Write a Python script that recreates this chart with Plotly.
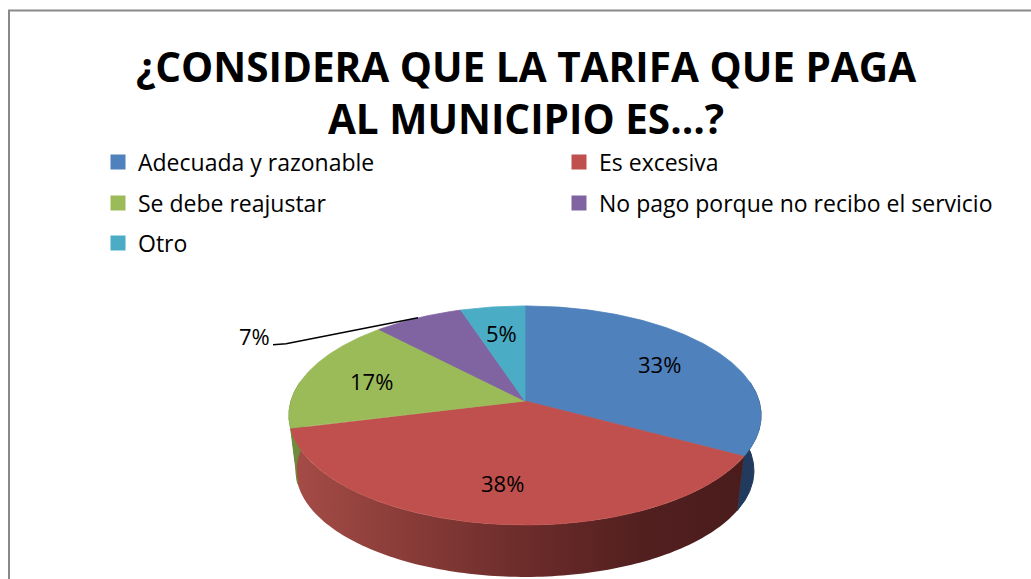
import numpy as np
import plotly.graph_objects as go

# ---------------- data ----------------
categories = ["Adecuada y razonable", "Es excesiva", "Se debe reajustar",
              "No pago porque no recibo el servicio", "Otro"]
values = [33, 38, 17, 7, 5]
title_lines = ["¿CONSIDERA QUE LA TARIFA QUE PAGA", "AL MUNICIPIO ES…?"]

# ---------------- styles ----------------
top_colors = ["#4F81BD", "#C0504D", "#9BBB59", "#8064A2", "#4BACC6"]
side_colors = ["#213A5E", "#7A3230", "#6F8B3B", "#53406E", "#2F7A8E"]
label_outside = [False, False, False, True, False]
FONT = "Open Sans"

W, H = 1031, 579
CX, CY = 525, 401          # pie apex (pixels)
SX, SY, U = 234, 107.6, 0.132   # perspective ellipse parameters
KB, DY = 0.97, 55.7        # bottom rim scale / drop
LABEL_R = 0.7

# legend grid (pixels): two columns, three rows
LEG_COL_X = [98, 559]
LEG_ROW_Y = [162, 203, 243]


def proj(theta, r=1.0):
    t = np.radians(theta)
    den = 1 + U * r * np.cos(t)
    return CX + SX * r * np.sin(t) / den, CY - SY * r * np.cos(t) / den


def proj_bottom(theta):
    x, y = proj(theta)
    return CX + KB * (x - CX), CY + KB * (y - CY) + DY


total = sum(values)
ends = np.cumsum(values) / total * 360.0
starts = np.concatenate([[0.0], ends[:-1]])

fig = go.Figure()

# ---- side walls (front visible part) ----
for i, (a0, a1) in enumerate(zip(starts, ends)):
    lo, hi = max(a0, 80.0), min(a1, 280.0)
    if hi <= lo:
        continue
    th = np.linspace(lo, hi, 120)
    xt, yt = proj(th)
    xb, yb = proj_bottom(th[::-1])
    xs = np.concatenate([xt, xb, xt[:1]])
    ys = np.concatenate([yt, yb, yt[:1]])
    kw = dict(x=xs, y=ys, fill="toself", hoverinfo="skip", showlegend=False)
    if i == 1:
        fig.add_trace(go.Scatter(mode="none", fillgradient=dict(
            type="horizontal",
            colorscale=[[0, "#A64C47"], [0.5, "#6D2D2B"], [0.78, "#521F1F"], [1, "#4A1C1C"]]),
            **kw))
    else:
        fig.add_trace(go.Scatter(mode="lines", fillcolor=side_colors[i],
                                 line=dict(color=side_colors[i], width=1), **kw))

# ---- top surfaces ----
for i, (a0, a1) in enumerate(zip(starts, ends)):
    th = np.linspace(a0, a1, 200)
    xr, yr = proj(th)
    xs = np.concatenate([[CX], xr, [CX]])
    ys = np.concatenate([[CY], yr, [CY]])
    fig.add_trace(go.Scatter(x=xs, y=ys, mode="lines", fill="toself",
                             fillcolor=top_colors[i],
                             line=dict(color=top_colors[i], width=0.8),
                             hoverinfo="skip", showlegend=False))

# ---- data labels ----
annotations = []
for i, (a0, a1) in enumerate(zip(starts, ends)):
    mid = (a0 + a1) / 2
    txt = f"{values[i] / total * 100:.0f}%"
    if label_outside[i]:
        ex, ey = proj(mid)
        elx, ely = ex - 132, ey + 26
        lx, ly = elx - 13, ely + 1
        fig.add_trace(go.Scatter(x=[ex, elx, lx], y=[ey, ely, ly], mode="lines",
                                 line=dict(color="#000000", width=1.5),
                                 hoverinfo="skip", showlegend=False))
        annotations.append(dict(x=lx - 1, y=ly - 9, xref="x", yref="y", text=txt,
                                showarrow=False, xanchor="right", yanchor="middle",
                                font=dict(family=FONT, size=22, color="#000")))
    else:
        px_, py_ = proj(mid, LABEL_R)
        annotations.append(dict(x=px_, y=py_, xref="x", yref="y", text=txt,
                                showarrow=False, xanchor="center", yanchor="middle",
                                font=dict(family=FONT, size=22, color="#000")))

# ---- legend entries (one legend box per entry, laid out as a 2-column grid) ----
legend_layout = {}
for i, cat in enumerate(categories):
    lid = "legend" if i == 0 else f"legend{i + 1}"
    fig.add_trace(go.Scatter(x=[None], y=[None], mode="markers", name=cat,
                             marker=dict(symbol="square", size=15, color=top_colors[i]),
                             legend=lid, hoverinfo="skip"))
    legend_layout[lid] = dict(
        orientation="h", font=dict(family=FONT, size=23, color="#000"),
        bgcolor="rgba(0,0,0,0)", itemsizing="trace",
        xanchor="left", yanchor="middle",
        x=LEG_COL_X[i % 2] / W, y=1 - LEG_ROW_Y[i // 2] / H,
        itemclick=False, itemdoubleclick=False)

fig.update_layout(
    width=W, height=H,
    margin=dict(l=0, r=0, t=0, b=0),
    paper_bgcolor="white", plot_bgcolor="white",
    title=dict(text="<b>" + "<br>".join(title_lines) + "</b>",
               x=526 / W, xanchor="center", xref="paper",
               y=1 - 81.5 / H, yanchor="middle", yref="container",
               font=dict(family=FONT, size=40.5, color="#000")),
    xaxis=dict(range=[0, W], visible=False, fixedrange=True),
    yaxis=dict(range=[H, 0], visible=False, fixedrange=True),
    annotations=annotations,
    shapes=[dict(type="rect", xref="paper", yref="paper",
                 x0=9 / W, x1=1.2, y0=1 - 10.5 / H, y1=-0.2,
                 line=dict(color="#898989", width=2), fillcolor="rgba(0,0,0,0)",
                 layer="below")],
    **legend_layout,
)

fig.write_html("out.html", config={"displayModeBar": False},
               post_script="document.body.style.margin='0';")
